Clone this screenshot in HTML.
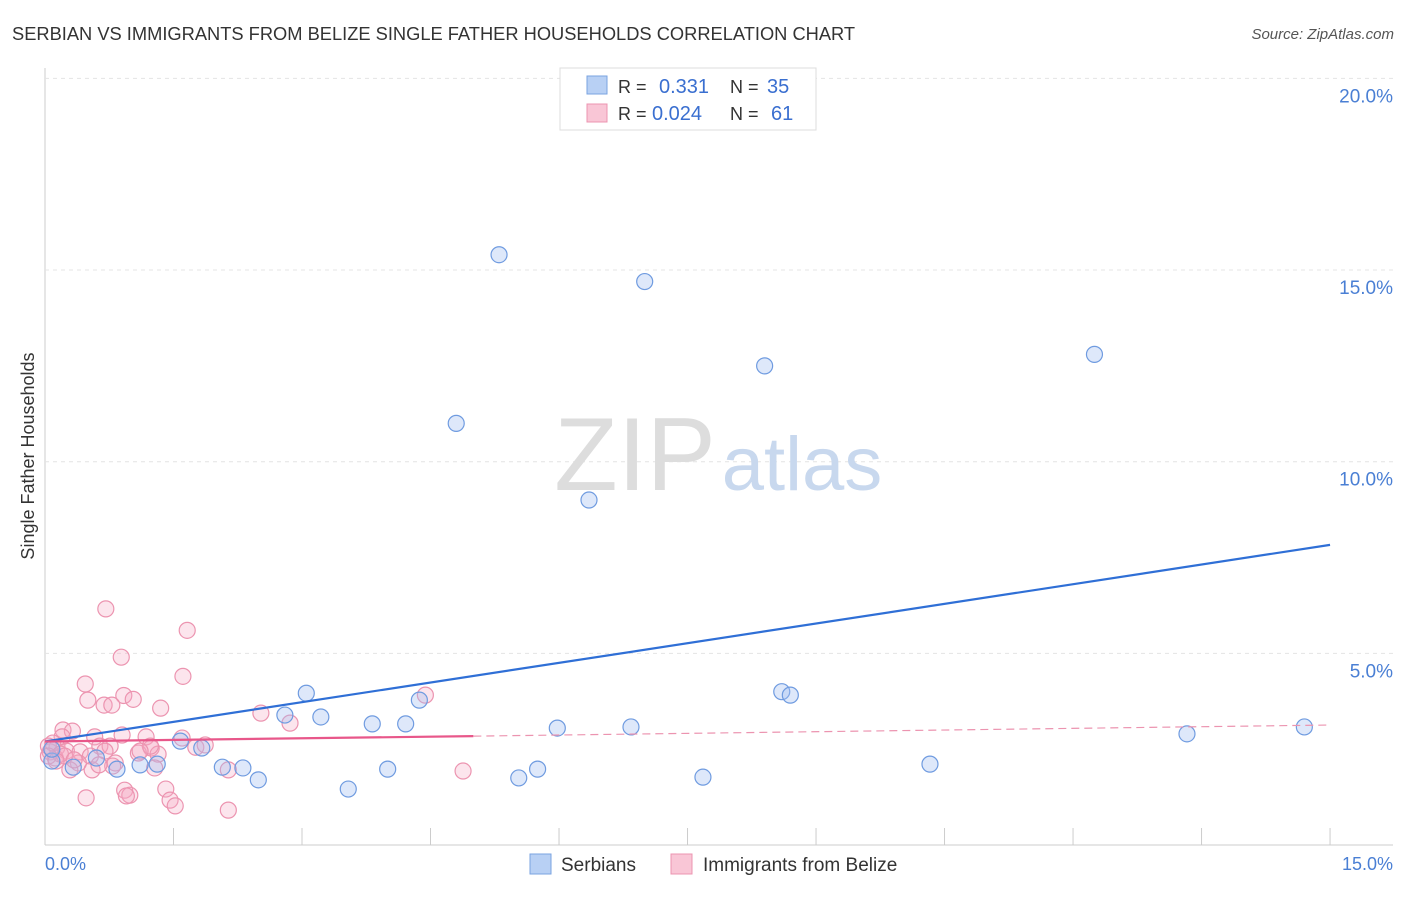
<!DOCTYPE html>
<html><head><meta charset="utf-8"><style>
body{margin:0;background:#fff;font-family:"Liberation Sans",sans-serif;}
svg text{font-family:"Liberation Sans",sans-serif;}
</style></head><body>
<svg width="1406" height="892" xmlns="http://www.w3.org/2000/svg">
<text x="12" y="40" font-size="18.3" fill="#333">SERBIAN VS IMMIGRANTS FROM BELIZE SINGLE FATHER HOUSEHOLDS CORRELATION CHART</text>
<text x="1394" y="39" font-size="15" fill="#555" text-anchor="end" font-style="italic">Source: ZipAtlas.com</text>
<g id="grid"></g>
<text x="635" y="490" font-size="104" fill="#ddd" font-family="Liberation Serif" text-anchor="middle">ZIP</text>
<text x="802" y="490" font-size="76" fill="#c8d8ee" text-anchor="middle">atlas</text>
<g id="pts"></g>
<g id="lines"></g>
<text x="34" y="456" font-size="18" fill="#333" text-anchor="middle" transform="rotate(-90 34 456)">Single Father Households</text>
<text x="45" y="870" font-size="18" fill="#4a7fd4">0.0%</text>
<text x="1393" y="870" font-size="18" fill="#4a7fd4" text-anchor="end">15.0%</text>
<g>
<rect x="560" y="68" width="256" height="62" fill="#fff" stroke="#ddd"/>
<rect x="587" y="76" width="20" height="18" fill="#b8d0f4" stroke="#7aa3e0"/>
<rect x="587" y="104" width="20" height="18" fill="#f9c6d6" stroke="#ec94b0"/>
<text x="618" y="93" font-size="18" fill="#333">R = </text><text x="659" y="93" font-size="20" fill="#3a6fd0">0.331</text>
<text x="730" y="93" font-size="18" fill="#333">N = </text><text x="767" y="93" font-size="20" fill="#3a6fd0">35</text>
<text x="618" y="120" font-size="18" fill="#333">R = </text><text x="652" y="120" font-size="20" fill="#3a6fd0">0.024</text>
<text x="730" y="120" font-size="18" fill="#333">N = </text><text x="771" y="120" font-size="20" fill="#3a6fd0">61</text>
</g>
<g>
<rect x="530" y="854" width="21" height="20" fill="#b8d0f4" stroke="#7aa3e0"/>
<text x="561" y="871" font-size="19" fill="#333">Serbians</text>
<rect x="671" y="854" width="21" height="20" fill="#f9c6d6" stroke="#ec94b0"/>
<text x="703" y="871" font-size="19" fill="#333">Immigrants from Belize</text>
</g>
</svg>
<script>
const blueX=[5.3,7.0,8.4,12.25,4.8,6.35,3.05,4.37,2.8,3.22,3.82,4.21,5.98,6.84,8.6,8.7,13.33,14.7,1.58,1.83,0.6,0.08,0.33,0.84,1.11,1.31,2.07,2.31,2.49,3.54,4.0,5.53,5.75,7.68,10.33,0.08];
const blueY=[15.4,14.7,12.5,12.8,11.0,9.0,3.96,3.78,3.39,3.34,3.16,3.16,3.05,3.08,4.0,3.91,2.9,3.08,2.71,2.53,2.27,2.19,2.03,1.98,2.09,2.11,2.03,2.01,1.7,1.46,1.98,1.75,1.98,1.77,2.11,2.5];
const pinkX=[0.71,1.66,0.89,0.47,1.61,0.92,1.03,0.5,0.69,0.78,1.35,2.52,2.86,4.44,0.21,0.32,0.2,0.58,0.9,1.18,1.6,0.64,0.76,1.24,1.76,1.87,0.14,0.06,0.25,0.41,1.09,1.32,0.12,0.53,0.82,0.39,0.29,0.55,0.79,1.28,2.14,4.88,0.93,0.99,0.95,1.41,1.46,1.52,0.48,2.14,0.04,0.09,0.18,0.7,0.23,0.34,0.63,1.23,1.11,0.04,0.13];
const pinkY=[6.16,5.6,4.9,4.2,4.4,3.9,3.8,3.78,3.65,3.65,3.57,3.44,3.18,3.91,3.0,2.97,2.82,2.82,2.87,2.82,2.79,2.58,2.58,2.53,2.55,2.61,2.55,2.43,2.45,2.43,2.4,2.37,2.27,2.32,2.14,2.14,1.96,1.96,2.06,2.01,1.96,1.93,1.43,1.3,1.28,1.46,1.17,1.02,1.23,0.91,2.58,2.66,2.37,2.45,2.32,2.22,2.09,2.58,2.45,2.32,2.19];
const xTicks=[0,1.5,3,4.5,6,7.5,9,10.5,12,13.5,15];
const yTicks=[5,10,15,20];
const yTickLabels=["5.0%","10.0%","15.0%","20.0%"];
const blueTrend=[[0,2.7],[15,7.83]];
const pinkTrend=[[0,2.7],[5,2.84],[15,3.13]];
const sx=v=>45+v*85.67, sy=v=>845-v*38.33;
const NS="http://www.w3.org/2000/svg";
function mk(t,a,p){const e=document.createElementNS(NS,t);for(const k in a)e.setAttribute(k,a[k]);p.appendChild(e);return e;}
const g=document.getElementById('grid');
const ax=mk('line',{x1:45,y1:845,x2:1393,y2:845,stroke:'#ccc'},g);


const ay=mk('line',{x1:45,y1:68,x2:45,y2:845,stroke:'#ccc'},g);


xTicks.forEach(v=>{const l=mk('line',{x1:sx(v),y1:828,x2:sx(v),y2:845,stroke:'#ccc'},g);

});
yTicks.forEach((v,i)=>{const l=mk('line',{x1:45,y1:sy(v),x2:1393,y2:sy(v),stroke:'#e4e4e4','stroke-dasharray':'4 4'},g);


const t=mk('text',{x:1393,y:sy(v)+24,'font-size':19,fill:'#4a7fd4','text-anchor':'end'},g);t.textContent=yTickLabels[i];

});
const p=document.getElementById('pts');
pinkX.forEach((x,i)=>{const c=mk('circle',{cx:sx(x),cy:sy(pinkY[i]),r:8,fill:'rgba(246,170,195,0.3)',stroke:'#ec94b0','stroke-width':1.2},p);

});
blueX.forEach((x,i)=>{const c=mk('circle',{cx:sx(x),cy:sy(blueY[i]),r:8,fill:'rgba(160,190,240,0.35)',stroke:'#6f9be0','stroke-width':1.2},p);

});
const L=document.getElementById('lines');
const bl=mk('line',{x1:sx(blueTrend[0][0]),y1:sy(blueTrend[0][1]),x2:sx(blueTrend[1][0]),y2:sy(blueTrend[1][1]),stroke:'#2f6fd6','stroke-width':2.2},L);


const pl=mk('line',{x1:sx(pinkTrend[0][0]),y1:sy(pinkTrend[0][1]),x2:sx(pinkTrend[1][0]),y2:sy(pinkTrend[1][1]),stroke:'#e8578a','stroke-width':2.2},L);


const pd=mk('line',{x1:sx(pinkTrend[1][0]),y1:sy(pinkTrend[1][1]),x2:sx(pinkTrend[2][0]),y2:sy(pinkTrend[2][1]),stroke:'#ec94b0','stroke-width':1.2,'stroke-dasharray':'8 5'},L);


</script>
</body></html>
